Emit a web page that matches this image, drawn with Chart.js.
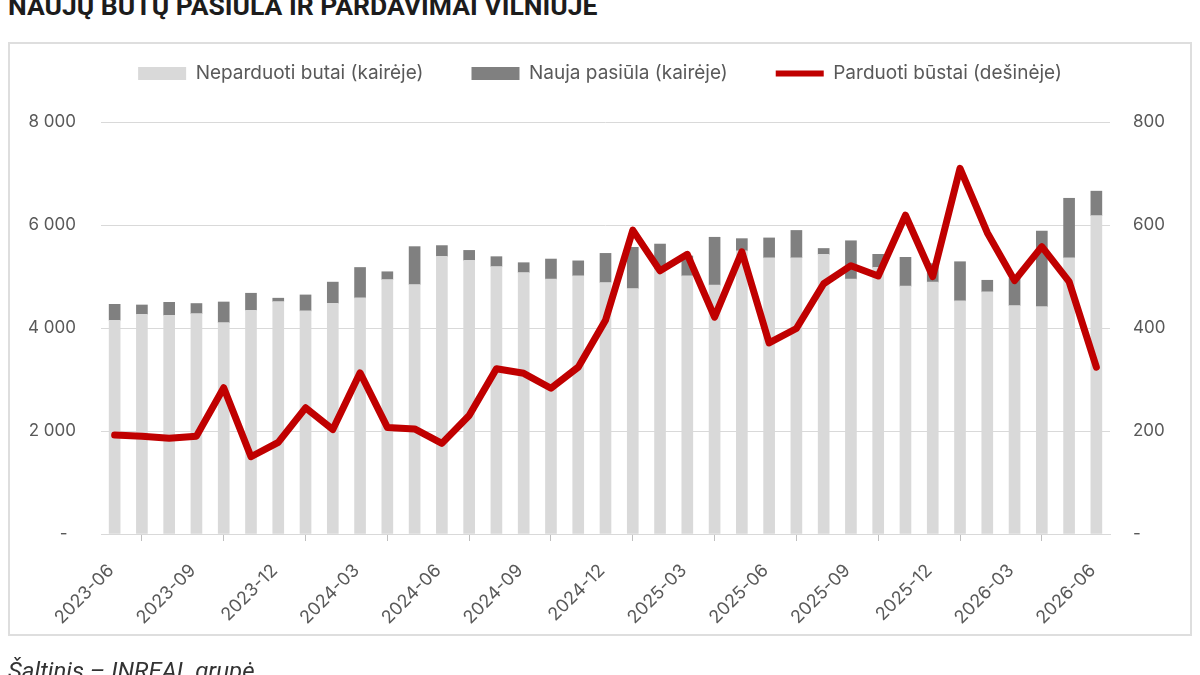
<!DOCTYPE html>
<html>
<head>
<meta charset="utf-8">
<script src="https://cdn.jsdelivr.net/npm/chart.js@4.4.1/dist/chart.umd.min.js"></script>
<style>
  html, body { margin: 0; padding: 0; background: #ffffff; }
  #wrap { position: relative; width: 1200px; height: 675px; overflow: hidden; background: #fff; }
  #title { position: absolute; left: 8px; top: -7px; font: 700 26.5px Roboto, 'Liberation Sans', sans-serif; color: #1c1c1c; white-space: nowrap; line-height: 26.5px; }
  #frame { position: absolute; left: 8px; top: 42px; width: 1180px; height: 590px; border: 2px solid #dedede; }
  #source { position: absolute; left: 8px; top: 659px; font: italic 400 24px Roboto, 'Liberation Sans', sans-serif; color: #333; white-space: nowrap; line-height: 24px; }
  canvas { position: absolute; left: 0; top: 0; }
</style>
</head>
<body>
<div id="wrap">
  <div id="title">NAUJŲ BŪTŲ PASIŪLA IR PARDAVIMAI VILNIUJE</div>
  <div id="frame"></div>
  <canvas id="c" width="1200" height="675"></canvas>
  <div id="source">Šaltinis – INREAL grupė</div>
</div>
<script>
// ---- data ----
const months = ['2023-06','2023-07','2023-08','2023-09','2023-10','2023-11','2023-12',
  '2024-01','2024-02','2024-03','2024-04','2024-05','2024-06','2024-07','2024-08','2024-09','2024-10','2024-11','2024-12',
  '2025-01','2025-02','2025-03','2025-04','2025-05','2025-06','2025-07','2025-08','2025-09','2025-10','2025-11','2025-12',
  '2026-01','2026-02','2026-03','2026-04','2026-05','2026-06'];
const neparduotiButai = [4150,4267,4248,4280,4105,4345,4514,4332,4481,4585,4942,4845,5390,5312,5195,5078,4949,5014,4884,
  4767,5150,5013,4832,5500,5364,5364,5429,4949,5176,4812,4890,4527,4702,4436,4416,5364,6182];
const naujaPasiula = [310,180,250,195,400,330,65,310,410,590,150,735,210,195,190,190,390,290,565,
  800,480,385,930,235,385,530,115,745,255,560,360,760,225,525,1465,1155,475];
const parduotiBustai = [192,190,186,190,284,150,178,245,203,313,207,204,176,230,321,312,283,324,415,
  590,511,543,421,548,371,399,486,521,501,619,500,710,585,492,558,490,324];
const xTickLabels = ['2023-06','2023-09','2023-12','2024-03','2024-06','2024-09','2024-12',
  '2025-03','2025-06','2025-09','2025-12','2026-03','2026-06'];
const leftTicks = [0, 2000, 4000, 6000, 8000];
const rightTicks = [0, 200, 400, 600, 800];
const seriesNames = ['Neparduoti butai (kairėje)', 'Nauja pasiūla (kairėje)', 'Parduoti būstai (dešinėje)'];

// ---- chart ----
Chart.defaults.font.family = "Inter, 'Noto Sans', sans-serif";
Chart.defaults.color = '#595959';

const LIGHT = '#D9D9D9', DARK = '#808080', RED = '#C00000';
const pts = arr => arr.map((v, i) => ({ x: i, y: v }));
const fmtLeft = v => v === 0 ? '-\u2002' : String(v).replace(/\B(?=(\d{3})+(?!\d))/g, ' ');
const fmtRight = v => v === 0 ? '-' : String(v);

new Chart(document.getElementById('c'), {
  type: 'bar',
  data: {
    datasets: [
      { type: 'line', label: seriesNames[2], data: pts(parduotiBustai), yAxisID: 'y1', order: 0,
        borderColor: RED, backgroundColor: RED, borderWidth: 7, pointRadius: 0, tension: 0,
        borderJoinStyle: 'round', borderCapStyle: 'round' },
      { label: seriesNames[0], data: pts(neparduotiButai), yAxisID: 'y', order: 1,
        backgroundColor: LIGHT, barThickness: 11, stack: 's' },
      { label: seriesNames[1], data: pts(naujaPasiula), yAxisID: 'y', order: 2,
        backgroundColor: DARK, barThickness: 11, stack: 's' }
    ]
  },
  options: {
    responsive: false,
    animation: false,
    devicePixelRatio: 1,
    layout: { padding: { top: 16, left: 0, right: 0, bottom: 0 } },
    plugins: {
      tooltip: { enabled: false },
      title: { display: true, text: ' ', position: 'top', weight: 500,
        padding: { top: 0, bottom: 0 }, font: { size: 29, lineHeight: 1 } },
      legend: {
        position: 'top', align: 'center', weight: 1000,
        labels: {
          usePointStyle: true, pointStyleWidth: 48, boxHeight: 13, padding: 48,
          color: '#595959', font: { size: 19 },
          generateLabels: () => [
            { text: seriesNames[0], fillStyle: LIGHT, strokeStyle: LIGHT, lineWidth: 0, pointStyle: 'rect', datasetIndex: 1, hidden: false, fontColor: '#595959' },
            { text: seriesNames[1], fillStyle: DARK, strokeStyle: DARK, lineWidth: 0, pointStyle: 'rect', datasetIndex: 2, hidden: false, fontColor: '#595959' },
            { text: seriesNames[2], fillStyle: RED, strokeStyle: RED, lineWidth: 6, pointStyle: 'line', datasetIndex: 0, hidden: false, fontColor: '#595959' }
          ]
        }
      }
    },
    scales: {
      x: {
        type: 'linear', min: -0.5, max: months.length - 0.5, stacked: true, offset: false,
        grid: { drawOnChartArea: false, drawTicks: true, tickLength: 7, color: '#BFBFBF' },
        border: { display: true, color: '#D9D9D9', width: 1 },
        afterBuildTicks: s => { s.ticks = xTickLabels.map(l => ({ value: months.indexOf(l) - 0.5 })); },
        ticks: { autoSkip: false, minRotation: 45, maxRotation: 45, padding: 19, labelOffset: 10,
          font: { size: 18 }, color: '#595959',
          callback: (v, i) => xTickLabels[i] },
        afterFit: s => { s.height = 141; }
      },
      y: {
        position: 'left', min: 0, max: 8000, stacked: true,
        afterBuildTicks: s => { s.ticks = leftTicks.map(v => ({ value: v })); },
        ticks: { padding: 25, font: { size: 17 }, color: '#595959', callback: v => fmtLeft(v) },
        grid: { color: '#D9D9D9', lineWidth: 1, drawTicks: false },
        border: { display: false },
        afterFit: s => { s.width = 101; }
      },
      y1: {
        position: 'right', min: 0, max: 800,
        afterBuildTicks: s => { s.ticks = rightTicks.map(v => ({ value: v })); },
        ticks: { padding: 23, font: { size: 17 }, color: '#595959', callback: v => fmtRight(v) },
        grid: { drawOnChartArea: false, drawTicks: false },
        border: { display: false },
        afterFit: s => { s.width = 90; }
      }
    }
  }
});
</script>
</body>
</html>
